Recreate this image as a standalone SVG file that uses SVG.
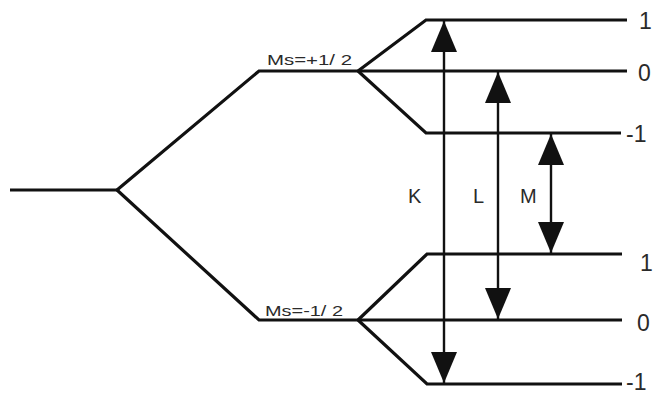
<svg xmlns="http://www.w3.org/2000/svg" width="655" height="394" viewBox="0 0 655 394">
<style>
.lvl{fill:none;stroke:#111;stroke-width:3.2;stroke-linejoin:miter}
.arr{fill:none;stroke:#111;stroke-width:2.4}
.lab{font-family:"Liberation Sans",Arial,sans-serif;fill:#2a2a2a}
.num{font-size:23px}
.big{font-size:20px}
.ms{font-size:15px}
</style>
<defs>
<marker id="ah" viewBox="0 -14 31 28" refX="31" refY="0" markerWidth="31" markerHeight="28" markerUnits="userSpaceOnUse" orient="auto-start-reverse">
<path d="M0,-13 L31,0 L0,13 Z" fill="#111"/>
</marker>
</defs>
<rect width="655" height="394" fill="#fff"/>
<g id="ground">
<path class="lvl" d="M10,190 H117"/>
</g>
<g id="ms-plus">
<path class="lvl" d="M117,190 L259,71 H358"/>
<text class="lab ms" x="267" y="65" textLength="85" lengthAdjust="spacingAndGlyphs">Ms=+1/ 2</text>
</g>
<g id="ms-minus">
<path class="lvl" d="M117,190 L259,320 H358"/>
<text class="lab ms" x="265" y="316" textLength="78" lengthAdjust="spacingAndGlyphs">Ms=-1/ 2</text>
</g>
<g id="upper-1">
<path class="lvl" d="M358,71 L426,20 H627"/>
<text class="lab num" x="639" y="29">1</text>
</g>
<g id="upper-0">
<path class="lvl" d="M358,71 H627"/>
<text class="lab num" x="638" y="81">0</text>
</g>
<g id="upper-m1">
<path class="lvl" d="M358,71 L426,133 H621"/>
<text class="lab num" x="626" y="142">-1</text>
</g>
<g id="lower-1">
<path class="lvl" d="M358,320 L427,254 H622"/>
<text class="lab num" x="640" y="271">1</text>
</g>
<g id="lower-0">
<path class="lvl" d="M358,320 H622"/>
<text class="lab num" x="637" y="331">0</text>
</g>
<g id="lower-m1">
<path class="lvl" d="M358,320 L427,384 H622"/>
<text class="lab num" x="626" y="390">-1</text>
</g>
<g id="connectors">
<line class="arr" x1="444" y1="21" x2="444" y2="383" marker-start="url(#ah)" marker-end="url(#ah)"/>
<line class="arr" x1="498" y1="72" x2="498" y2="319" marker-start="url(#ah)" marker-end="url(#ah)"/>
<line class="arr" x1="551" y1="134" x2="551" y2="253" marker-start="url(#ah)" marker-end="url(#ah)"/>
</g>
<g id="labels">
<text class="lab big" x="408" y="203">K</text>
<text class="lab big" x="473" y="203">L</text>
<text class="lab big" x="520" y="203">M</text>
</g>
</svg>
